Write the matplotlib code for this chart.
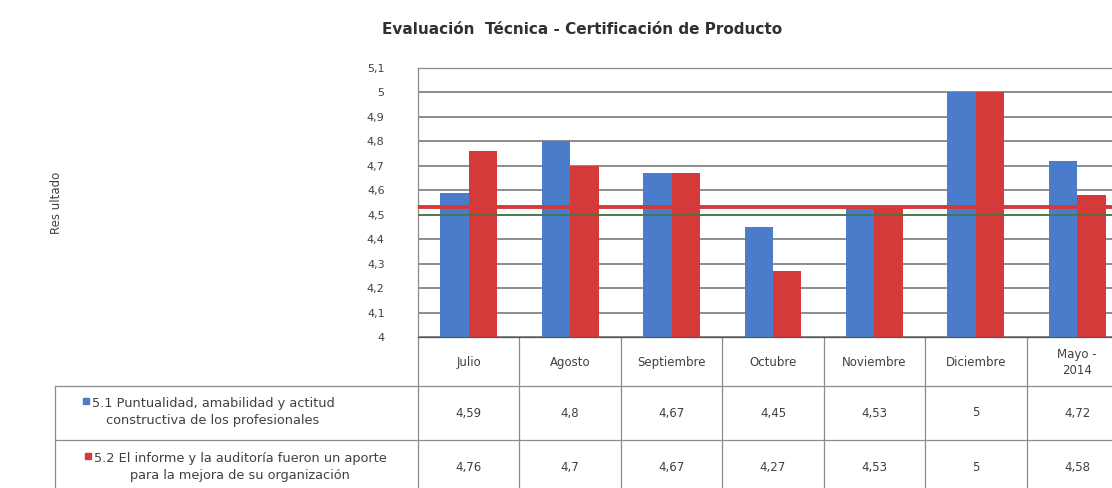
import matplotlib.pyplot as plt
import matplotlib.transforms as mtransforms
import numpy as np

meses = ["Julio", "Agosto", "Septiembre", "Octubre", "Noviembre", "Diciembre", "Mayo -\n2014"]
serie_51 = [4.59, 4.8, 4.67, 4.45, 4.53, 5, 4.72]
serie_52 = [4.76, 4.7, 4.67, 4.27, 4.53, 5, 4.58]
nombre_51 = "5.1 Puntualidad, amabilidad y actitud\nconstructiva de los profesionales"
nombre_52 = "5.2 El informe y la auditoría fueron un aporte\npara la mejora de su organización"
promedio = 4.53
meta = 4.5
y_ticks = [4, 4.1, 4.2, 4.3, 4.4, 4.5, 4.6, 4.7, 4.8, 4.9, 5, 5.1]

azul = "#4a7ccb"
rojo = "#d43a3a"
gris = "#8c8c8c"
texto = "#404040"

W, H = 1112, 488
fig = plt.figure(figsize=(W / 100, H / 100), dpi=100)

# pixel overlay (y grows downwards) for the data table
tab = fig.add_axes([0, 0, 1, 1])
tab.set_xlim(0, W)
tab.set_ylim(H, 0)
tab.axis("off")

# plot area: x 418..1128 px, y 68..337 px
left, right, top, bottom = 418, 1128, 68, 337
ax = fig.add_axes([left / W, (H - bottom) / H, (right - left) / W, (bottom - top) / H])
ax.set_zorder(2)
ax.patch.set_alpha(0)

x = np.arange(len(meses))
w = 0.28
ax.bar(x - w / 2, serie_51, w, bottom=0, color=azul, zorder=2)
ax.bar(x + w / 2, serie_52, w, bottom=0, color=rojo, zorder=2)
ax.axhline(meta, color="#3f7a3f", lw=1.2, zorder=3)
ax.axhline(promedio, color=rojo, lw=2.8, zorder=4)

ax.set_xlim(-0.5, len(meses) - 0.5)
ax.set_ylim(4, 5.1)
ax.set_yticks(y_ticks)
ax.set_yticklabels([f"{v:g}".replace(".", ",") for v in y_ticks], fontsize=8, color=texto)
ax.tick_params(axis="y", length=0, pad=24)
ax.set_xticks([])
ax.yaxis.grid(True, color="#6e6e6e", lw=1.1)
ax.set_axisbelow(True)
for s in ax.spines.values():
    s.set_color(gris)
    s.set_linewidth(0.9)
ax.spines["bottom"].set_color("#555555")

fig.text(582 / W, 1 - 30 / H, "Evaluación  Técnica - Certificación de Producto",
         ha="center", va="center", fontsize=11, fontweight="bold", color="#303030")
fig.text(57 / W, 1 - 203 / H, "Res ultado", rotation=90, ha="center", va="center",
         fontsize=8.5, color=texto)

# data table under the axis: x in data units, y in pixels
bt = mtransforms.blended_transform_factory(ax.transData, tab.transData)
row1_top, row_div, row2_bot = 386, 440, 495
lc = gris
for i in range(len(meses) + 1):
    tab.plot([i - 0.5, i - 0.5], [bottom, row2_bot], color=lc, lw=0.9, transform=bt, clip_on=False)
for yy in (row1_top, row_div, row2_bot):
    tab.plot([55, W], [yy, yy], color=lc, lw=0.9)
tab.plot([55, 55], [row1_top, row2_bot], color=lc, lw=0.9)

for i, m in enumerate(meses):
    tab.text(i, (bottom + row1_top) / 2 + 1, m, transform=bt, ha="center", va="center",
             fontsize=8.5, color=texto, linespacing=1.3)
    tab.text(i, (row1_top + row_div) / 2, f"{serie_51[i]:g}".replace(".", ","), transform=bt,
             ha="center", va="center", fontsize=8.5, color=texto)
    tab.text(i, (row_div + row2_bot) / 2, f"{serie_52[i]:g}".replace(".", ","), transform=bt,
             ha="center", va="center", fontsize=8.5, color=texto)

# series names with their colour key just left of the first line
fig.canvas.draw()
for (cx, yy, nombre, col) in [(213, 412, nombre_51, azul), (240, 467, nombre_52, rojo)]:
    t = tab.text(cx, yy, nombre, ha="center", va="center", fontsize=9.3, color=texto,
                 linespacing=1.45)
    bb = t.get_window_extent(renderer=fig.canvas.get_renderer())
    tab.add_patch(plt.Rectangle((bb.x0 - 9, yy - 14), 6, 6, color=col))

fig.savefig("out.png", dpi=100)
